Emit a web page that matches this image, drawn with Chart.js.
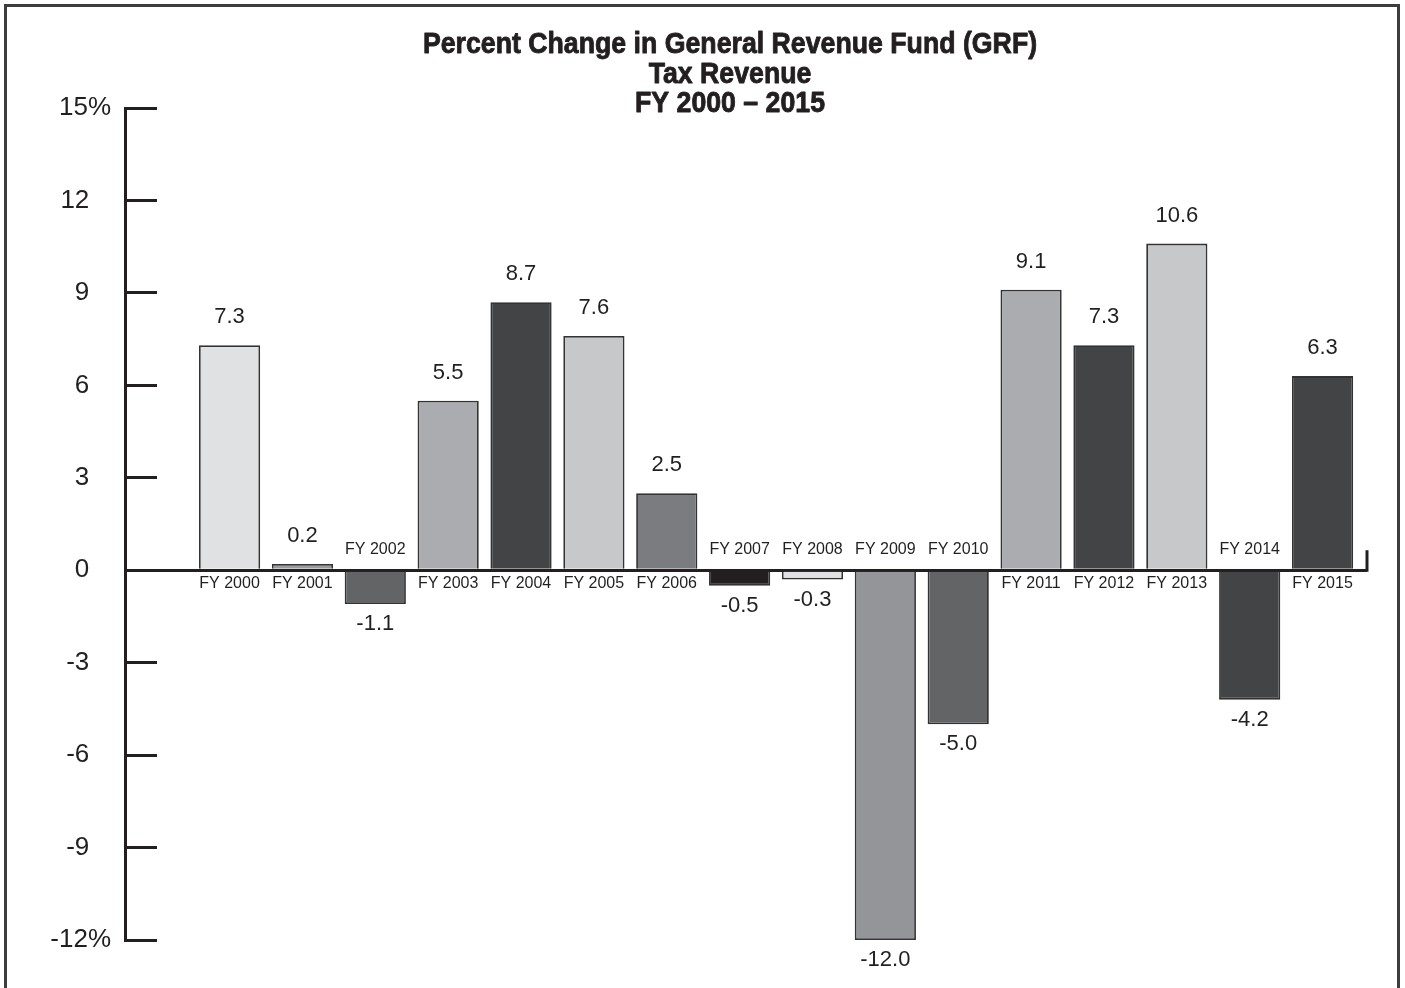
<!DOCTYPE html>
<html>
<head>
<meta charset="utf-8">
<title>GRF Tax Revenue</title>
<script src="https://cdn.jsdelivr.net/npm/chart.js@4.4.1/dist/chart.umd.min.js"></script>
<style>
  html, body { margin: 0; padding: 0; background: #fff; overflow: hidden; }
  #wrap { position: relative; width: 1405px; height: 988px; }
  #wrap canvas { position: absolute; left: 0; top: 0; }
  #frame {
    position: absolute; left: 4px; top: 4px; width: 1396px; height: 1000px;
    border: 3px solid #3d3d3d; border-bottom: none; box-sizing: border-box;
  }
</style>
</head>
<body>
<div id="wrap">
  <canvas id="chart_grf" width="1405" height="988"></canvas>
  <div id="frame"></div>
</div>
<script>
const years = ['FY 2000', 'FY 2001', 'FY 2002', 'FY 2003', 'FY 2004', 'FY 2005', 'FY 2006', 'FY 2007',
               'FY 2008', 'FY 2009', 'FY 2010', 'FY 2011', 'FY 2012', 'FY 2013', 'FY 2014', 'FY 2015'];
const changes = [7.3, 0.2, -1.1, 5.5, 8.7, 7.6, 2.5, -0.5, -0.3, -12.0, -5.0, 9.1, 7.3, 10.6, -4.2, 6.3];
const barColors = ['#e0e1e3', '#9a9b9e', '#636466', '#abacaf', '#434446', '#c7c8ca', '#7b7c7f', '#231f20',
                   '#e0e1e3', '#939598', '#636466', '#abacaf', '#434446', '#c7c8ca', '#434446', '#434446'];
const yTicks = [15, 12, 9, 6, 3, 0, -3, -6, -9, -12];
const yTickLabels = ['15%', '12', '9', '6', '3', '0', '-3', '-6', '-9', '-12%'];
const titleLines = ['Percent Change in General Revenue Fund (GRF)', 'Tax Revenue', 'FY 2000 \u2013 2015'];

const INK = '#231f20';
const SANS = '"Liberation Sans", Arial, Helvetica, sans-serif';

// three-line heading in a condensed bold face (squeezed horizontally, stroked a little heavier)
const heading = {
    id: 'heading',
    afterDraw(chart) {
        const ctx = chart.ctx;
        const area = chart.chartArea;
        const squeeze = 0.89;
        const cx = (area.left + area.right) / 2 - 16;
        ctx.save();
        ctx.fillStyle = INK;
        ctx.strokeStyle = INK;
        ctx.lineWidth = 0.9;
        ctx.lineJoin = 'round';
        ctx.textAlign = 'center';
        ctx.textBaseline = 'middle';
        ctx.font = 'bold 30px ' + SANS;
        ctx.scale(squeeze, 1);
        titleLines.forEach((line, i) => {
            ctx.fillText(line, cx / squeeze, 45 + i * 29.5);
            ctx.strokeText(line, cx / squeeze, 45 + i * 29.5);
        });
        ctx.restore();
    }
};

// value above/below each bar, year on the other side of the zero line
const barLabels = {
    id: 'barLabels',
    afterDatasetsDraw(chart) {
        const ctx = chart.ctx;
        const meta = chart.getDatasetMeta(0);
        const zero = chart.scales.y.getPixelForValue(0);
        const area = chart.chartArea;
        ctx.save();
        ctx.fillStyle = INK;
        ctx.textAlign = 'center';
        ctx.textBaseline = 'middle';
        meta.data.forEach((bar, i) => {
            const v = changes[i];
            ctx.font = '22px ' + SANS;
            ctx.fillText(v.toFixed(1), bar.x, v >= 0 ? bar.y - 28 : bar.y + 20);
            ctx.font = '16px ' + SANS;
            ctx.fillText(years[i], bar.x, v >= 0 ? zero + 13 : zero - 21);
        });
        // small upright cap at the end of the zero line
        ctx.strokeStyle = INK;
        ctx.lineWidth = 3;
        ctx.beginPath();
        ctx.moveTo(area.right, zero - 20);
        ctx.lineTo(area.right, zero + 1.5);
        ctx.stroke();
        ctx.restore();
    }
};

const ctx = document.getElementById('chart_grf');

const data = {
    datasets: [{
        data: years.map((y, i) => ({ x: i, y: changes[i] })),
        backgroundColor: barColors,
        borderColor: '#333333',
        borderWidth: 1.8,
        barPercentage: 0.84,
        categoryPercentage: 1,
    }]
};

const config = {
    type: 'bar',
    data: data,
    plugins: [barLabels, heading],
    options: {
        responsive: false,
        animation: false,
        layout: { padding: { left: 0, right: 38, top: 108, bottom: 48 } },
        plugins: {
            legend: { display: false },
            tooltip: { enabled: false },
            title: { display: false },
        },
        scales: {
            x: {
                type: 'linear',
                min: -1.435,
                max: 15.61,
                offset: false,
                display: false,
            },
            y: {
                min: -12,
                max: 15,
                afterFit(scale) {
                    scale.width = 125;
                    // the wide label padding should not eat into the plot height
                    scale.paddingTop = 16;
                    scale.paddingBottom = 16;
                },
                border: { display: true, color: INK, width: 3 },
                grid: {
                    drawOnChartArea: true,
                    color: (c) => (c.tick && c.tick.value === 0 ? INK : 'rgba(0,0,0,0)'),
                    lineWidth: 3,
                    tickColor: INK,
                    tickWidth: 3,
                    tickLength: -32,
                },
                ticks: {
                    stepSize: 3,
                    padding: 46,
                    color: INK,
                    font: { family: SANS, size: 26 },
                    callback: (value) => {
                        const label = yTickLabels[yTicks.indexOf(value)];
                        // keep the numbers aligned while the % hangs off to the right
                        return label.endsWith('%') ? label : label + '   ';
                    },
                },
            },
        },
    },
};

new Chart(ctx, config);
</script>
</body>
</html>
